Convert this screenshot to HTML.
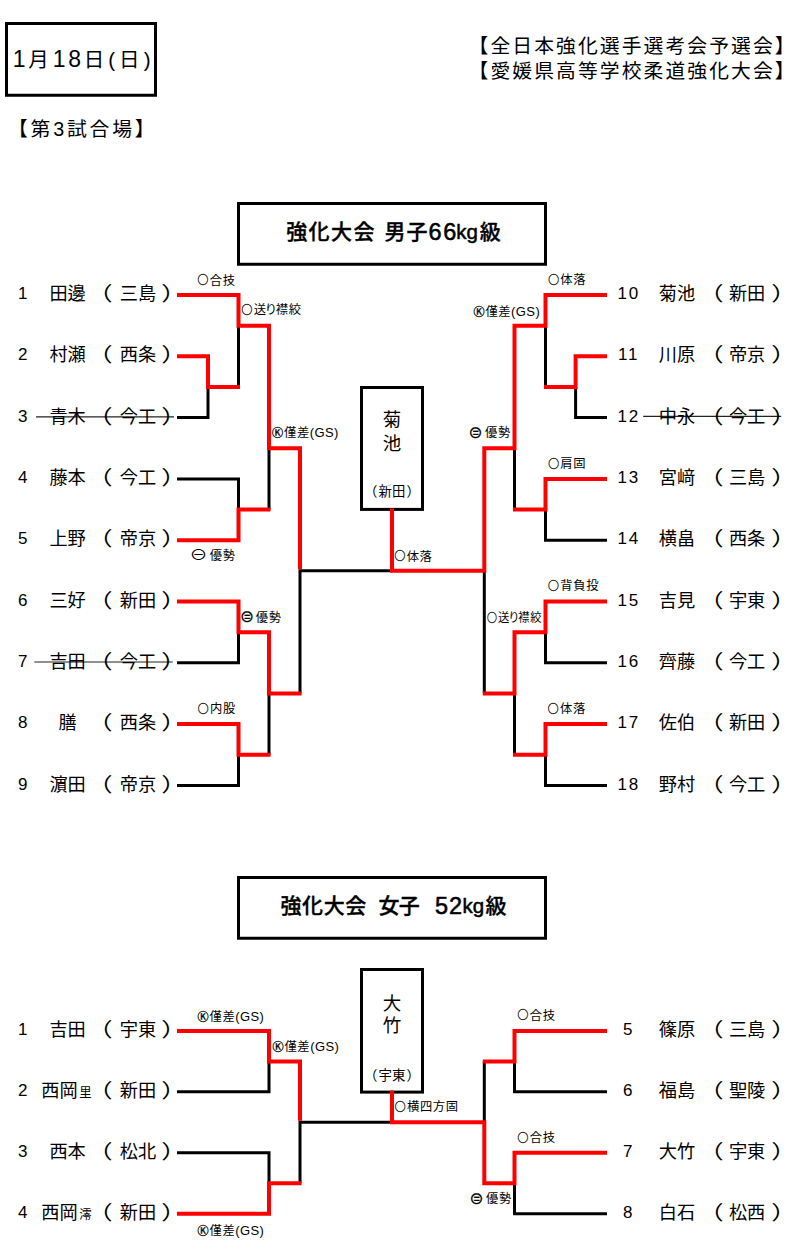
<!DOCTYPE html>
<html lang="ja"><head><meta charset="utf-8"><title>強化大会</title><style>
html,body{margin:0;padding:0;background:#fff}
body{width:801px;height:1250px;position:relative;overflow:hidden;font-family:"Liberation Sans","Noto Sans CJK JP","DejaVu Sans",sans-serif;color:#000}
.lines{position:absolute;left:0;top:0}
.t{position:absolute;white-space:nowrap;margin:0;padding:0}
.h{font-size:19.8px;line-height:30px;height:30px;letter-spacing:2.1px}
.h.r{text-align:right}
.h.date{text-align:center;letter-spacing:4.05px;font-size:20.5px}
.dg{font-size:23px;letter-spacing:2.65px}
.title{font-size:21px;line-height:30px;height:30px;font-weight:500;letter-spacing:1.4px;color:#000}
.title span{position:absolute;top:0;white-space:pre;-webkit-text-stroke:.35px #000}
.win{font-size:18.5px;line-height:22px;height:22px;text-align:center}
.wsch{font-size:13.4px;line-height:18px;height:18px;text-align:center;letter-spacing:.3px}
.sp{letter-spacing:-2.5px}
.sp2{letter-spacing:-.9px}
.wl{margin-right:.8px}
.wr{margin-left:.8px}
.p{font-size:18.2px;line-height:24px;height:24px}
.p.num{text-align:center;font-size:17px}
.p.name{text-align:center}
.p.n2{letter-spacing:1.8px;text-indent:1.8px}
.p.par{text-align:center;font-size:19.5px;transform:scaleX(1.3)}
.sm{font-size:12.3px;margin-left:1.6px}
.lab{font-size:12.3px;line-height:16px;height:16px;letter-spacing:.65px}
.lab.kk{letter-spacing:.55px}
.g{font-size:13px;letter-spacing:.4px}
.ri{margin:0 -2px 0 -1.8px}
.o{font-size:.88em;margin-right:.7px;position:relative;top:-.3px;-webkit-text-stroke:.3px #111;font-family:"Noto Sans CJK JP","Liberation Sans",sans-serif}
.k{font-size:.9em;margin-right:.4px;-webkit-text-stroke:.35px #000}
.m1{font-size:1.2em;display:inline-block;transform:scaleX(1.22);transform-origin:center;margin:0 1px 0 1.2px;font-family:"Noto Sans CJK JP","DejaVu Sans",sans-serif;letter-spacing:0}
.m2{position:relative;top:.9px;left:-.6px;font-size:1.36em;letter-spacing:0;margin-right:1px;-webkit-text-stroke:.2px #111;line-height:1}
</style></head><body>
<svg class="lines" width="801" height="1250" viewBox="0 0 801 1250">
<g fill="none" stroke="#000" stroke-width="3">
<rect x="6.5" y="23.5" width="149" height="71.75"/>
<rect x="238.5" y="203.5" width="307" height="60.75"/>
<rect x="238.5" y="877.5" width="307" height="60.75"/>
<rect x="361.5" y="387.5" width="61" height="121.9"/>
<rect x="361.5" y="969.5" width="61" height="122.6"/>
</g>
<g fill="none" stroke="#000" stroke-width="3" stroke-linejoin="miter" stroke-linecap="butt">
<path d="M177 417.6 H208 V386.95"/>
<path d="M238.5 386.95 V325.65"/>
<path d="M177 478.9 H238.5 V509.55"/>
<path d="M269 509.55 V448.25"/>
<path d="M177 662.8 H238.5 V632.15"/>
<path d="M177 785.4 H238.5 V754.75"/>
<path d="M269 754.75 V693.45"/>
<path d="M300 693.45 V570.85 H392"/>
<path d="M607 417.6 H575.6 V386.95"/>
<path d="M545.5 386.95 V325.65"/>
<path d="M607 540.2 H545.5 V509.55"/>
<path d="M514.5 509.55 V448.25"/>
<path d="M607 662.8 H545.5 V632.15"/>
<path d="M607 785.4 H545.5 V754.75"/>
<path d="M514.5 754.75 V693.45"/>
<path d="M484.3 693.45 V570.85"/>
<path d="M177 1091.86 H269 V1061.38"/>
<path d="M177 1152.82 H269 V1183.3"/>
<path d="M300 1183.3 V1122.34 H392"/>
<path d="M607 1091.86 H514.5 V1061.38"/>
<path d="M607 1213.78 H514.5 V1183.3"/>
<path d="M484.3 1061.38 V1122.34"/>
</g>
<g fill="none" stroke="#f00" stroke-width="4" stroke-linejoin="miter" stroke-linecap="butt">
<path d="M177 295 H238.5 V325.65 H269 V448.25 H300 V569.35"/>
<path d="M177 356.3 H208 V386.95 H240"/>
<path d="M177 540.2 H238.5 V509.55 H270.5"/>
<path d="M177 601.5 H238.5 V632.15 H269 V693.45 H301.5"/>
<path d="M177 724.1 H238.5 V754.75 H270.5"/>
<path d="M607 295 H545.5 V325.65 H514.5 V448.25 H484.3 V570.85 H392 V508.5"/>
<path d="M607 356.3 H575.6 V386.95 H544"/>
<path d="M607 478.9 H545.5 V509.55 H513"/>
<path d="M607 601.5 H545.5 V632.15 H514.5 V693.45 H482.8"/>
<path d="M607 724.1 H545.5 V754.75 H513"/>
<path d="M177 1030.9 H269 V1061.38 H300 V1120.84"/>
<path d="M177 1213.78 H269 V1183.3 H301.5"/>
<path d="M607 1030.9 H514.5 V1061.38 H482.8"/>
<path d="M607 1152.82 H514.5 V1183.3 H484.3 V1122.34 H392 V1090.6"/>
</g>
<g stroke="#222" stroke-width="1.2">
<line x1="36" y1="416.8" x2="174" y2="416.8"/>
<line x1="34.3" y1="662" x2="172.8" y2="662"/>
<line x1="643.2" y1="416.4" x2="781.2" y2="416.4"/>
</g>
</svg>
<div class="t h date" style="left:7.9px;top:44px;width:151.5px;"><span class="dg">1</span>月<span class="dg">18</span>日(日)</div>
<div class="t h" style="left:8px;top:114px;letter-spacing:2.8px">【第3試合場】</div>
<div class="t h r" style="left:468.5px;top:30.5px;width:321px;">【全日本強化選手選考会予選会】</div>
<div class="t h r" style="left:468.5px;top:55.8px;width:321px;">【愛媛県高等学校柔道強化大会】</div>
<div class="t title" style="left:237px;top:217px;width:310px"><span style="left:49.2px">強化大会 </span><span style="left:147.6px;letter-spacing:.9px">男子</span><span style="left:191.6px;letter-spacing:1.6px;font-weight:normal;font-size:23.5px;-webkit-text-stroke:.55px #000">66</span><span style="left:219.2px;font-weight:normal;font-size:20.5px;letter-spacing:0;-webkit-text-stroke:.5px #000">kg</span><span style="left:242.7px">級</span></div>
<div class="t title" style="left:237px;top:891px;width:310px"><span style="left:43.5px;letter-spacing:.6px">強化大会 </span><span style="left:141.4px;letter-spacing:-.6px">女子 </span><span style="left:198px;letter-spacing:1px;font-weight:normal;font-size:23.5px;-webkit-text-stroke:.55px #000">52</span><span style="left:225.5px;font-weight:normal;font-size:20.5px;letter-spacing:0;-webkit-text-stroke:.5px #000">kg</span><span style="left:248.4px">級</span></div>
<div class="t win" style="left:360.3px;top:408.7px;width:63.6px;">菊</div>
<div class="t win" style="left:360.3px;top:433.1px;width:63.6px;">池</div>
<div class="t wsch" style="left:360.3px;top:483.1px;width:63.6px;"><span class="wl">（</span>新田<span class="wr">）</span></div>
<div class="t win" style="left:360.3px;top:992.5px;width:63.6px;">大</div>
<div class="t win" style="left:360.3px;top:1014.9px;width:63.6px;">竹</div>
<div class="t wsch" style="left:360.3px;top:1066.5px;width:63.6px;"><span class="wl">（</span>宇東<span class="wr">）</span></div>
<div id="pl0" class="t p num" style="left:7.8px;top:282.1px;width:30px">1</div>
<div id="pl1" class="t p name" style="left:42.6px;top:282.1px;width:50px">田邊</div>
<div id="pl2" class="t p par" style="left:90px;top:282.1px;width:19px">（</div>
<div id="pl3" class="t p name" style="left:112.9px;top:282.1px;width:50px">三島</div>
<div id="pl4" class="t p par" style="left:164px;top:282.1px;width:19px">）</div>
<div id="pl5" class="t p num" style="left:7.8px;top:343.4px;width:30px">2</div>
<div id="pl6" class="t p name" style="left:42.6px;top:343.4px;width:50px">村瀬</div>
<div id="pl7" class="t p par" style="left:90px;top:343.4px;width:19px">（</div>
<div id="pl8" class="t p name" style="left:112.9px;top:343.4px;width:50px">西条</div>
<div id="pl9" class="t p par" style="left:164px;top:343.4px;width:19px">）</div>
<div id="pl10" class="t p num" style="left:7.8px;top:404.7px;width:30px">3</div>
<div id="pl11" class="t p name" style="left:42.6px;top:404.7px;width:50px">青木</div>
<div id="pl12" class="t p par" style="left:90px;top:404.7px;width:19px">（</div>
<div id="pl13" class="t p name" style="left:112.9px;top:404.7px;width:50px">今工</div>
<div id="pl14" class="t p par" style="left:164px;top:404.7px;width:19px">）</div>
<div id="pl15" class="t p num" style="left:7.8px;top:466px;width:30px">4</div>
<div id="pl16" class="t p name" style="left:42.6px;top:466px;width:50px">藤本</div>
<div id="pl17" class="t p par" style="left:90px;top:466px;width:19px">（</div>
<div id="pl18" class="t p name" style="left:112.9px;top:466px;width:50px">今工</div>
<div id="pl19" class="t p par" style="left:164px;top:466px;width:19px">）</div>
<div id="pl20" class="t p num" style="left:7.8px;top:527.3px;width:30px">5</div>
<div id="pl21" class="t p name" style="left:42.6px;top:527.3px;width:50px">上野</div>
<div id="pl22" class="t p par" style="left:90px;top:527.3px;width:19px">（</div>
<div id="pl23" class="t p name" style="left:112.9px;top:527.3px;width:50px">帝京</div>
<div id="pl24" class="t p par" style="left:164px;top:527.3px;width:19px">）</div>
<div id="pl25" class="t p num" style="left:7.8px;top:588.6px;width:30px">6</div>
<div id="pl26" class="t p name" style="left:42.6px;top:588.6px;width:50px">三好</div>
<div id="pl27" class="t p par" style="left:90px;top:588.6px;width:19px">（</div>
<div id="pl28" class="t p name" style="left:112.9px;top:588.6px;width:50px">新田</div>
<div id="pl29" class="t p par" style="left:164px;top:588.6px;width:19px">）</div>
<div id="pl30" class="t p num" style="left:7.8px;top:649.9px;width:30px">7</div>
<div id="pl31" class="t p name" style="left:42.6px;top:649.9px;width:50px">吉田</div>
<div id="pl32" class="t p par" style="left:90px;top:649.9px;width:19px">（</div>
<div id="pl33" class="t p name" style="left:112.9px;top:649.9px;width:50px">今工</div>
<div id="pl34" class="t p par" style="left:164px;top:649.9px;width:19px">）</div>
<div id="pl35" class="t p num" style="left:7.8px;top:711.2px;width:30px">8</div>
<div id="pl36" class="t p name" style="left:42.6px;top:711.2px;width:50px">膳</div>
<div id="pl37" class="t p par" style="left:90px;top:711.2px;width:19px">（</div>
<div id="pl38" class="t p name" style="left:112.9px;top:711.2px;width:50px">西条</div>
<div id="pl39" class="t p par" style="left:164px;top:711.2px;width:19px">）</div>
<div id="pl40" class="t p num" style="left:7.8px;top:772.5px;width:30px">9</div>
<div id="pl41" class="t p name" style="left:42.6px;top:772.5px;width:50px">濵田</div>
<div id="pl42" class="t p par" style="left:90px;top:772.5px;width:19px">（</div>
<div id="pl43" class="t p name" style="left:112.9px;top:772.5px;width:50px">帝京</div>
<div id="pl44" class="t p par" style="left:164px;top:772.5px;width:19px">）</div>
<div id="pl45" class="t p num n2" style="left:612.8px;top:282.1px;width:30px">10</div>
<div id="pl46" class="t p name" style="left:651.9px;top:282.1px;width:50px">菊池</div>
<div id="pl47" class="t p par" style="left:700.7px;top:282.1px;width:19px">（</div>
<div id="pl48" class="t p name" style="left:722.1px;top:282.1px;width:50px">新田</div>
<div id="pl49" class="t p par" style="left:774.3px;top:282.1px;width:19px">）</div>
<div id="pl50" class="t p num n2" style="left:612.8px;top:343.4px;width:30px">11</div>
<div id="pl51" class="t p name" style="left:651.9px;top:343.4px;width:50px">川原</div>
<div id="pl52" class="t p par" style="left:700.7px;top:343.4px;width:19px">（</div>
<div id="pl53" class="t p name" style="left:722.1px;top:343.4px;width:50px">帝京</div>
<div id="pl54" class="t p par" style="left:774.3px;top:343.4px;width:19px">）</div>
<div id="pl55" class="t p num n2" style="left:612.8px;top:404.7px;width:30px">12</div>
<div id="pl56" class="t p name" style="left:651.9px;top:404.7px;width:50px">中永</div>
<div id="pl57" class="t p par" style="left:700.7px;top:404.7px;width:19px">（</div>
<div id="pl58" class="t p name" style="left:722.1px;top:404.7px;width:50px">今工</div>
<div id="pl59" class="t p par" style="left:774.3px;top:404.7px;width:19px">）</div>
<div id="pl60" class="t p num n2" style="left:612.8px;top:466px;width:30px">13</div>
<div id="pl61" class="t p name" style="left:651.9px;top:466px;width:50px">宮﨑</div>
<div id="pl62" class="t p par" style="left:700.7px;top:466px;width:19px">（</div>
<div id="pl63" class="t p name" style="left:722.1px;top:466px;width:50px">三島</div>
<div id="pl64" class="t p par" style="left:774.3px;top:466px;width:19px">）</div>
<div id="pl65" class="t p num n2" style="left:612.8px;top:527.3px;width:30px">14</div>
<div id="pl66" class="t p name" style="left:651.9px;top:527.3px;width:50px">横畠</div>
<div id="pl67" class="t p par" style="left:700.7px;top:527.3px;width:19px">（</div>
<div id="pl68" class="t p name" style="left:722.1px;top:527.3px;width:50px">西条</div>
<div id="pl69" class="t p par" style="left:774.3px;top:527.3px;width:19px">）</div>
<div id="pl70" class="t p num n2" style="left:612.8px;top:588.6px;width:30px">15</div>
<div id="pl71" class="t p name" style="left:651.9px;top:588.6px;width:50px">吉見</div>
<div id="pl72" class="t p par" style="left:700.7px;top:588.6px;width:19px">（</div>
<div id="pl73" class="t p name" style="left:722.1px;top:588.6px;width:50px">宇東</div>
<div id="pl74" class="t p par" style="left:774.3px;top:588.6px;width:19px">）</div>
<div id="pl75" class="t p num n2" style="left:612.8px;top:649.9px;width:30px">16</div>
<div id="pl76" class="t p name" style="left:651.9px;top:649.9px;width:50px">齊藤</div>
<div id="pl77" class="t p par" style="left:700.7px;top:649.9px;width:19px">（</div>
<div id="pl78" class="t p name" style="left:722.1px;top:649.9px;width:50px">今工</div>
<div id="pl79" class="t p par" style="left:774.3px;top:649.9px;width:19px">）</div>
<div id="pl80" class="t p num n2" style="left:612.8px;top:711.2px;width:30px">17</div>
<div id="pl81" class="t p name" style="left:651.9px;top:711.2px;width:50px">佐伯</div>
<div id="pl82" class="t p par" style="left:700.7px;top:711.2px;width:19px">（</div>
<div id="pl83" class="t p name" style="left:722.1px;top:711.2px;width:50px">新田</div>
<div id="pl84" class="t p par" style="left:774.3px;top:711.2px;width:19px">）</div>
<div id="pl85" class="t p num n2" style="left:612.8px;top:772.5px;width:30px">18</div>
<div id="pl86" class="t p name" style="left:651.9px;top:772.5px;width:50px">野村</div>
<div id="pl87" class="t p par" style="left:700.7px;top:772.5px;width:19px">（</div>
<div id="pl88" class="t p name" style="left:722.1px;top:772.5px;width:50px">今工</div>
<div id="pl89" class="t p par" style="left:774.3px;top:772.5px;width:19px">）</div>
<div id="pl90" class="t p num" style="left:7.8px;top:1018px;width:30px">1</div>
<div id="pl91" class="t p name" style="left:42.6px;top:1018px;width:50px">吉田</div>
<div id="pl92" class="t p par" style="left:90px;top:1018px;width:19px">（</div>
<div id="pl93" class="t p name" style="left:112.9px;top:1018px;width:50px">宇東</div>
<div id="pl94" class="t p par" style="left:164px;top:1018px;width:19px">）</div>
<div id="pl95" class="t p num" style="left:7.8px;top:1078.96px;width:30px">2</div>
<div id="pl96" class="t p name" style="left:40.5px;top:1078.96px;width:52px">西岡<span class="sm">里</span></div>
<div id="pl97" class="t p par" style="left:90px;top:1078.96px;width:19px">（</div>
<div id="pl98" class="t p name" style="left:112.9px;top:1078.96px;width:50px">新田</div>
<div id="pl99" class="t p par" style="left:164px;top:1078.96px;width:19px">）</div>
<div id="pl100" class="t p num" style="left:7.8px;top:1139.92px;width:30px">3</div>
<div id="pl101" class="t p name" style="left:42.6px;top:1139.92px;width:50px">西本</div>
<div id="pl102" class="t p par" style="left:90px;top:1139.92px;width:19px">（</div>
<div id="pl103" class="t p name" style="left:112.9px;top:1139.92px;width:50px">松北</div>
<div id="pl104" class="t p par" style="left:164px;top:1139.92px;width:19px">）</div>
<div id="pl105" class="t p num" style="left:7.8px;top:1200.88px;width:30px">4</div>
<div id="pl106" class="t p name" style="left:40.5px;top:1200.88px;width:52px">西岡<span class="sm">澪</span></div>
<div id="pl107" class="t p par" style="left:90px;top:1200.88px;width:19px">（</div>
<div id="pl108" class="t p name" style="left:112.9px;top:1200.88px;width:50px">新田</div>
<div id="pl109" class="t p par" style="left:164px;top:1200.88px;width:19px">）</div>
<div id="pl110" class="t p num" style="left:612.8px;top:1018px;width:30px">5</div>
<div id="pl111" class="t p name" style="left:651.9px;top:1018px;width:50px">篠原</div>
<div id="pl112" class="t p par" style="left:700.7px;top:1018px;width:19px">（</div>
<div id="pl113" class="t p name" style="left:722.1px;top:1018px;width:50px">三島</div>
<div id="pl114" class="t p par" style="left:774.3px;top:1018px;width:19px">）</div>
<div id="pl115" class="t p num" style="left:612.8px;top:1078.96px;width:30px">6</div>
<div id="pl116" class="t p name" style="left:651.9px;top:1078.96px;width:50px">福島</div>
<div id="pl117" class="t p par" style="left:700.7px;top:1078.96px;width:19px">（</div>
<div id="pl118" class="t p name" style="left:722.1px;top:1078.96px;width:50px">聖陵</div>
<div id="pl119" class="t p par" style="left:774.3px;top:1078.96px;width:19px">）</div>
<div id="pl120" class="t p num" style="left:612.8px;top:1139.92px;width:30px">7</div>
<div id="pl121" class="t p name" style="left:651.9px;top:1139.92px;width:50px">大竹</div>
<div id="pl122" class="t p par" style="left:700.7px;top:1139.92px;width:19px">（</div>
<div id="pl123" class="t p name" style="left:722.1px;top:1139.92px;width:50px">宇東</div>
<div id="pl124" class="t p par" style="left:774.3px;top:1139.92px;width:19px">）</div>
<div id="pl125" class="t p num" style="left:612.8px;top:1200.88px;width:30px">8</div>
<div id="pl126" class="t p name" style="left:651.9px;top:1200.88px;width:50px">白石</div>
<div id="pl127" class="t p par" style="left:700.7px;top:1200.88px;width:19px">（</div>
<div id="pl128" class="t p name" style="left:722.1px;top:1200.88px;width:50px">松西</div>
<div id="pl129" class="t p par" style="left:774.3px;top:1200.88px;width:19px">）</div>
<div id="lab0" class="t lab " style="left:197.6px;top:271.5px;"><span class="o">○</span>合技</div>
<div id="lab1" class="t lab " style="left:241.5px;top:301.2px;"><span class="o">○</span>送<span class="ri">り</span>襟絞</div>
<div id="lab2" class="t lab kk" style="left:272.1px;top:425px;"><span class="k">Ⓚ</span>僅差<span class="g">(GS)</span></div>
<div id="lab3" class="t lab " style="left:190.3px;top:545.5px;"><span class="m1">⊖</span><span class="sp2"> </span>優勢</div>
<div id="lab4" class="t lab " style="left:240.7px;top:608.5px;"><span class="m2">⊜</span>優勢</div>
<div id="lab5" class="t lab " style="left:197.8px;top:700.1px;"><span class="o">○</span>内股</div>
<div id="lab6" class="t lab " style="left:394.5px;top:547.5px;"><span class="o">○</span>体落</div>
<div id="lab7" class="t lab " style="left:548.2px;top:271.2px;"><span class="o">○</span>体落</div>
<div id="lab8" class="t lab kk" style="left:473.4px;top:303.5px;"><span class="k">Ⓚ</span>僅差<span class="g">(GS)</span></div>
<div id="lab9" class="t lab " style="left:469px;top:424.2px;"><span class="m2">⊜</span><span class="sp"> </span>優勢</div>
<div id="lab10" class="t lab " style="left:548.2px;top:455px;"><span class="o">○</span>肩固</div>
<div id="lab11" class="t lab " style="left:548.1px;top:577.3px;"><span class="o">○</span>背負投</div>
<div id="lab12" class="t lab " style="left:486.9px;top:609px;transform:scaleX(.915);transform-origin:0 50%;"><span class="o">○</span>送<span class="ri">り</span>襟絞</div>
<div id="lab13" class="t lab " style="left:547.8px;top:700.1px;"><span class="o">○</span>体落</div>
<div id="lab14" class="t lab kk" style="left:197.6px;top:1009px;"><span class="k">Ⓚ</span>僅差<span class="g">(GS)</span></div>
<div id="lab15" class="t lab kk" style="left:272.5px;top:1038.9px;"><span class="k">Ⓚ</span>僅差<span class="g">(GS)</span></div>
<div id="lab16" class="t lab kk" style="left:197.6px;top:1222.7px;"><span class="k">Ⓚ</span>僅差<span class="g">(GS)</span></div>
<div id="lab17" class="t lab " style="left:394.8px;top:1098.2px;"><span class="o">○</span>横四方固</div>
<div id="lab18" class="t lab " style="left:517.6px;top:1006.7px;"><span class="o">○</span>合技</div>
<div id="lab19" class="t lab " style="left:517.6px;top:1129.2px;"><span class="o">○</span>合技</div>
<div id="lab20" class="t lab " style="left:470.1px;top:1190px;"><span class="m2">⊜</span><span class="sp"> </span>優勢</div>
</body></html>
